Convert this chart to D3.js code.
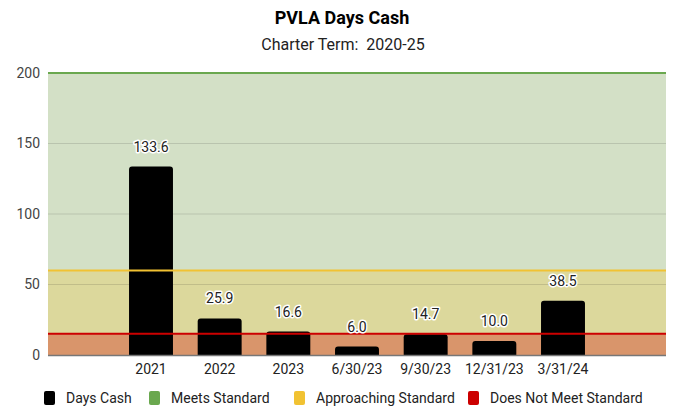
<!DOCTYPE html>
<html lang="en">
<head>
    <meta charset="UTF-8">
    <title>PVLA Days Cash</title>
    <script src="https://cdn.jsdelivr.net/npm/d3@7"></script>
    <style>
        body { margin: 0; background: #fff; }
        svg { font-family: Roboto, "Noto Sans", sans-serif; }
        .tick line { display: none; }
        .domain { display: none; }
    </style>
</head>
<body>
<div id="chart"></div>
<script>
// data
const categories = ['', '2021', '2022', '2023', '6/30/23', '9/30/23', '12/31/23', '3/31/24', '']
const daysCash = [null, 133.6, 25.9, 16.6, 6.0, 14.7, 10.0, 38.5, null]
const meetsStandard = 200
const approachingStandard = 60
const doesNotMeet = 15
const yTicks = [0, 50, 100, 150, 200]

const W = 673, H = 408
const margin = {top: 73, right: 7, bottom: 53, left: 48}

const svg = d3.select('#chart').append('svg').attr('width', W).attr('height', H)

const x = d3.scaleBand().domain(d3.range(categories.length))
    .range([margin.left, W - margin.right]).paddingInner(0.36).paddingOuter(0.18)
const y = d3.scaleLinear().domain([0, 200]).range([H - margin.bottom, margin.top])

const x0 = margin.left, x1 = W - margin.right

// title
svg.append('text').attr('x', 342).attr('y', 24).attr('text-anchor', 'middle')
    .attr('font-size', 18).attr('font-weight', 'bold').attr('fill', '#000').text('PVLA Days Cash')
svg.append('text').attr('x', 343).attr('y', 50).attr('text-anchor', 'middle')
    .attr('font-size', 16).attr('fill', '#222').attr('xml:space', 'preserve').text('Charter Term:  2020-25')

// background bands
const bands = [
    [meetsStandard, approachingStandard, '#d3e0c6'],
    [approachingStandard, doesNotMeet, '#dcd89c'],
    [doesNotMeet, 0, '#d9956b'],
]
svg.append('g').selectAll('rect').data(bands).enter().append('rect')
    .attr('x', x0).attr('width', x1 - x0)
    .attr('y', d => y(d[0])).attr('height', d => y(d[1]) - y(d[0]))
    .attr('fill', d => d[2])

// gridlines
svg.append('g').selectAll('line').data([50, 100, 150]).enter().append('line')
    .attr('x1', x0).attr('x2', x1).attr('y1', d => y(d)).attr('y2', d => y(d))
    .attr('stroke', 'rgba(0,0,0,0.12)').attr('stroke-width', 1)

// y axis labels
svg.append('g').attr('transform', `translate(${x0 - 6},0)`)
    .call(d3.axisLeft(y).tickValues(yTicks).tickSize(0).tickPadding(2))
    .selectAll('text').attr('font-size', 14).attr('fill', '#444').attr('font-family', 'Roboto, sans-serif')

// bars with rounded tops
const r = 3
svg.append('g').selectAll('path').data(daysCash.map((v, i) => [i, v]).filter(d => d[1] != null))
    .enter().append('path')
    .attr('fill', '#000')
    .attr('d', d => {
        const bx = x(d[0]), bw = x.bandwidth(), top = y(d[1]), bot = y(0)
        return `M${bx},${bot}V${top + r}Q${bx},${top} ${bx + r},${top}H${bx + bw - r}Q${bx + bw},${top} ${bx + bw},${top + r}V${bot}Z`
    })

// baseline
svg.append('line').attr('x1', x0).attr('x2', x1).attr('y1', y(0) + 0.5).attr('y2', y(0) + 0.5)
    .attr('stroke', '#777').attr('stroke-width', 1.5)

// standard lines
const stdLines = [[meetsStandard, '#6aa84f'], [approachingStandard, '#f1c232'], [doesNotMeet, '#cc0000']]
svg.append('g').selectAll('line').data(stdLines).enter().append('line')
    .attr('x1', x0).attr('x2', x1).attr('y1', d => y(d[0])).attr('y2', d => y(d[0]))
    .attr('stroke', d => d[1]).attr('stroke-width', 2)

// value labels
svg.append('g').selectAll('text').data(daysCash.map((v, i) => [i, v]).filter(d => d[1] != null))
    .enter().append('text')
    .attr('x', d => x(d[0]) + x.bandwidth() / 2)
    .attr('y', d => y(d[1]) - 15)
    .attr('text-anchor', 'middle').attr('font-size', 14)
    .attr('fill', '#222').attr('stroke', '#fff').attr('stroke-width', 3)
    .attr('paint-order', 'stroke').attr('stroke-linejoin', 'round')
    .text(d => d[1].toFixed(1))

// x labels
svg.append('g').attr('transform', `translate(0,${y(0)})`)
    .call(d3.axisBottom(x).tickFormat(i => categories[i]).tickSize(0).tickPadding(9))
    .selectAll('text').attr('font-size', 14).attr('fill', '#222').attr('font-family', 'Roboto, sans-serif')

// legend
const legendItems = [
    ['Days Cash', '#000', 44],
    ['Meets Standard', '#6aa84f', 149],
    ['Approaching Standard', '#f1c232', 294],
    ['Does Not Meet Standard', '#cc0000', 468],
]
const lg = svg.append('g').selectAll('g').data(legendItems).enter().append('g')
    .attr('transform', d => `translate(${d[2]},391)`)
lg.append('rect').attr('width', 11).attr('height', 14).attr('rx', 2).attr('fill', d => d[1])
lg.append('text').attr('x', 22).attr('y', 12).attr('font-size', 14).attr('fill', '#222').text(d => d[0])
</script>
</body>
</html>
